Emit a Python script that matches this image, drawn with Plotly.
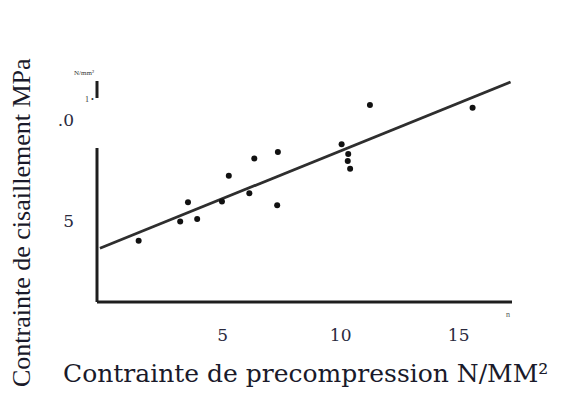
import plotly.graph_objects as go

# Data
x_points = [1.44, 3.20, 3.53, 3.92, 4.97, 5.26, 6.13, 6.34, 7.31, 7.34,
            10.04, 10.32, 10.30, 10.40, 11.24, 15.59]
y_points = [4.02, 4.97, 5.93, 5.10, 5.96, 7.24, 6.37, 8.10, 5.78, 8.42,
            8.80, 8.32, 7.97, 7.59, 10.74, 10.61]
fit_x = [-0.2, 17.2]
fit_y = [3.65, 11.88]
x_tickvals = [5, 10, 15]
x_ticktext = ["5", "10", "15"]
y_tickvals = [5, 10]
y_ticktext = ["5", ".0"]
x_title = "Contrainte de precompression N/MM²"
y_title = "Contrainte de cisaillement MPa"

XR = [-0.325, 17.26]
YR = [0.99, 11.98]

fig = go.Figure()
fig.add_trace(go.Scatter(x=fit_x, y=fit_y, mode="lines",
                         line=dict(color="#2e2e2e", width=2.8),
                         hoverinfo="skip", showlegend=False))
fig.add_trace(go.Scatter(x=x_points, y=y_points, mode="markers",
                         marker=dict(color="#111111", size=6),
                         showlegend=False))

label_font = dict(family="DejaVu Serif, Liberation Serif, serif", size=17, color="#2a2a3e")

fig.update_layout(
    width=563, height=401,
    margin=dict(l=97, r=51, t=80, b=99),
    paper_bgcolor="white", plot_bgcolor="white",
    font=dict(family="Liberation Serif, DejaVu Serif, serif"),
    xaxis=dict(range=XR, tickvals=x_tickvals, ticktext=x_ticktext,
               showgrid=False, zeroline=False, showline=False,
               ticks="", tickfont=label_font, ticklabelstandoff=21),
    yaxis=dict(range=YR, tickvals=y_tickvals, ticktext=y_ticktext,
               showgrid=False, zeroline=False, showline=False,
               ticks="", tickfont=label_font, ticklabelstandoff=22),
)

# axis titles
fig.add_annotation(text=x_title, xref="paper", yref="paper",
                   x=(305 - 97) / 415, y=(302 - 373) / 222,
                   xanchor="center", yanchor="middle", showarrow=False,
                   font=dict(family="DejaVu Serif, serif", size=25, color="#1a1a2a"))
fig.add_annotation(text=y_title, xref="paper", yref="paper", textangle=-90,
                   x=(21 - 97) / 415, y=(302 - 223) / 222,
                   xanchor="center", yanchor="middle", showarrow=False,
                   font=dict(family="Liberation Serif, serif", size=26, color="#1a1a2a"))

axis_color = "#1e1e1e"
# bottom axis line
fig.add_shape(type="line", xref="paper", yref="paper", x0=0, x1=1, y0=0, y1=0,
              line=dict(color=axis_color, width=3))
# left axis line (two segments, with the gap of the scan)
fig.add_shape(type="line", xref="paper", yref="paper", x0=0, x1=0,
              y0=0, y1=(302 - 148) / 222, line=dict(color=axis_color, width=3))
fig.add_shape(type="line", xref="paper", yref="paper", x0=0, x1=0,
              y0=(302 - 98) / 222, y1=(302 - 81) / 222, line=dict(color=axis_color, width=3))

# small scanned labels
fig.add_annotation(text="N/mm²", xref="paper", yref="paper",
                   x=(72 - 97) / 415, y=(302 - 67) / 222, showarrow=False,
                   font=dict(size=7, color="#333"))
fig.add_annotation(text="1 •", xref="paper", yref="paper",
                   x=(83 - 97) / 415, y=(302 - 93) / 222, showarrow=False,
                   font=dict(size=8, color="#333"))
fig.add_annotation(text="n", xref="paper", yref="paper",
                   x=(512 - 97) / 415, y=(302 - 321) / 222, showarrow=False,
                   font=dict(size=8, color="#555"))

fig.write_html("out.html")
